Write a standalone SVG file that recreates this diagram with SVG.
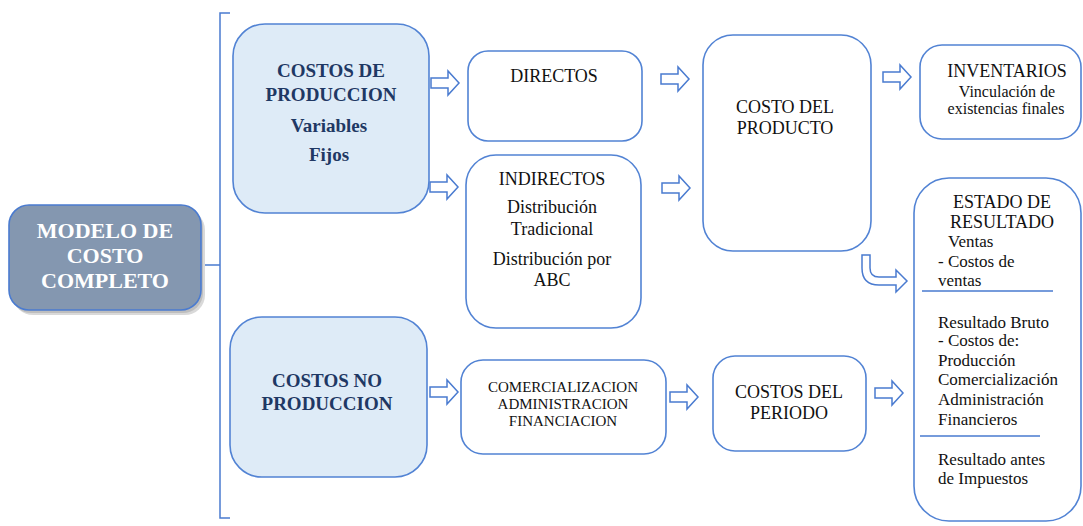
<svg xmlns="http://www.w3.org/2000/svg" width="1083" height="526" viewBox="0 0 1083 526">
<defs>
  <path id="arr" d="M0,-5 H17 V-12 L28,0 L17,12 V5 H0 Z" fill="#ffffff" stroke="#4A7BD0" stroke-width="1.5"/>
</defs>

<g id="connectors">
  <path d="M230,13 H220 V518 H230 M220,265 H205" fill="none" stroke="#4A7BD0" stroke-width="1.5"/>
  <use href="#arr" transform="translate(431,83)"/>
  <use href="#arr" transform="translate(430,187)"/>
  <use href="#arr" transform="translate(430,392)"/>
  <use href="#arr" transform="translate(661,79)"/>
  <use href="#arr" transform="translate(662,188)"/>
  <use href="#arr" transform="translate(883,77)"/>
  <use href="#arr" transform="translate(670,397)"/>
  <use href="#arr" transform="translate(875,393)"/>
  <path d="M862,255 V268 Q862,285 879,285 H896 V292 L907,281 L896,270 V277 H879 Q870,277 870,268 V255 Z" fill="#ffffff" stroke="#4A7BD0" stroke-width="1.5"/>
</g>

<g id="modelo">
  <rect x="13" y="210" width="192" height="105" rx="20" fill="#000000" fill-opacity="0.15"/>
  <rect x="11" y="208" width="192" height="105" rx="20" fill="#000000" fill-opacity="0.12"/>
  <rect x="9" y="205" width="192" height="105" rx="20" fill="#8497B0" stroke="#4A7BD0" stroke-width="1.6"/>
  <text x="105" y="238" style="font-family:'Liberation Serif',serif;font-size:22px;font-weight:bold;fill:#ffffff;text-anchor:middle">MODELO DE</text>
  <text x="105" y="263" style="font-family:'Liberation Serif',serif;font-size:22px;font-weight:bold;fill:#ffffff;text-anchor:middle">COSTO</text>
  <text x="105" y="288" style="font-family:'Liberation Serif',serif;font-size:22px;font-weight:bold;fill:#ffffff;text-anchor:middle">COMPLETO</text>
</g>

<g id="costos-produccion">
  <rect x="233" y="24" width="196" height="189" rx="32" fill="#DEEBF7" stroke="#5283D4" stroke-width="1.6"/>
  <text x="331" y="77" style="font-family:'Liberation Serif',serif;font-size:19px;font-weight:bold;fill:#1F3864;text-anchor:middle">COSTOS DE</text>
  <text x="331" y="101" style="font-family:'Liberation Serif',serif;font-size:19px;font-weight:bold;fill:#1F3864;text-anchor:middle">PRODUCCION</text>
  <text x="329" y="132" style="font-family:'Liberation Serif',serif;font-size:19px;font-weight:bold;fill:#1F3864;text-anchor:middle">Variables</text>
  <text x="329" y="161" style="font-family:'Liberation Serif',serif;font-size:19px;font-weight:bold;fill:#1F3864;text-anchor:middle">Fijos</text>
</g>

<g id="costos-no-produccion">
  <rect x="230" y="317" width="197" height="160" rx="32" fill="#DEEBF7" stroke="#5283D4" stroke-width="1.6"/>
  <text x="327" y="387" style="font-family:'Liberation Serif',serif;font-size:19px;font-weight:bold;fill:#1F3864;text-anchor:middle">COSTOS NO</text>
  <text x="327" y="410" style="font-family:'Liberation Serif',serif;font-size:19px;font-weight:bold;fill:#1F3864;text-anchor:middle">PRODUCCION</text>
</g>

<g id="directos">
  <rect x="468" y="51" width="174" height="90" rx="20" fill="#ffffff" stroke="#5283D4" stroke-width="1.6"/>
  <text x="554" y="82" style="font-family:'Liberation Serif',serif;font-size:18px;fill:#111111;text-anchor:middle">DIRECTOS</text>
</g>

<g id="indirectos">
  <rect x="466" y="155" width="175" height="173" rx="30" fill="#ffffff" stroke="#5283D4" stroke-width="1.6"/>
  <text x="552" y="185" style="font-family:'Liberation Serif',serif;font-size:18px;fill:#111111;text-anchor:middle">INDIRECTOS</text>
  <text x="552" y="213" style="font-family:'Liberation Serif',serif;font-size:18px;fill:#111111;text-anchor:middle">Distribución</text>
  <text x="552" y="235" style="font-family:'Liberation Serif',serif;font-size:18px;fill:#111111;text-anchor:middle">Tradicional</text>
  <text x="552" y="265" style="font-family:'Liberation Serif',serif;font-size:18px;fill:#111111;text-anchor:middle">Distribución por</text>
  <text x="552" y="286" style="font-family:'Liberation Serif',serif;font-size:18px;fill:#111111;text-anchor:middle">ABC</text>
</g>

<g id="costo-producto">
  <rect x="703" y="35" width="168" height="216" rx="30" fill="#ffffff" stroke="#5283D4" stroke-width="1.6"/>
  <text x="785" y="113" style="font-family:'Liberation Serif',serif;font-size:18px;fill:#111111;text-anchor:middle">COSTO DEL</text>
  <text x="785" y="134" style="font-family:'Liberation Serif',serif;font-size:18px;fill:#111111;text-anchor:middle">PRODUCTO</text>
</g>

<g id="inventarios">
  <rect x="920" y="45" width="161" height="94" rx="22" fill="#ffffff" stroke="#5283D4" stroke-width="1.6"/>
  <text x="1007" y="77" style="font-family:'Liberation Serif',serif;font-size:18px;fill:#111111;text-anchor:middle">INVENTARIOS</text>
  <text x="1007" y="97" style="font-family:'Liberation Serif',serif;font-size:16px;fill:#111111;text-anchor:middle">Vinculación de</text>
  <text x="1006" y="114" style="font-family:'Liberation Serif',serif;font-size:16px;fill:#111111;text-anchor:middle">existencias finales</text>
</g>

<g id="estado-resultado">
  <rect x="914" y="178" width="167" height="343" rx="35" fill="#ffffff" stroke="#5283D4" stroke-width="1.6"/>
  <text x="1002" y="208" style="font-family:'Liberation Serif',serif;font-size:18px;fill:#111111;text-anchor:middle">ESTADO DE</text>
  <text x="1002" y="228" style="font-family:'Liberation Serif',serif;font-size:18px;fill:#111111;text-anchor:middle">RESULTADO</text>
  <text x="948" y="247" style="font-family:'Liberation Serif',serif;font-size:17px;fill:#111111">Ventas</text>
  <text x="938" y="267" style="font-family:'Liberation Serif',serif;font-size:17px;fill:#111111">- Costos de</text>
  <text x="938" y="286" style="font-family:'Liberation Serif',serif;font-size:17px;fill:#111111">ventas</text>
  <path d="M922,291 H1053 M920,436 H1040" fill="none" stroke="#4A7BD0" stroke-width="1.5"/>
  <text x="938" y="328" style="font-family:'Liberation Serif',serif;font-size:17px;fill:#111111">Resultado Bruto</text>
  <text x="938" y="346" style="font-family:'Liberation Serif',serif;font-size:17px;fill:#111111">- Costos de:</text>
  <text x="938" y="366" style="font-family:'Liberation Serif',serif;font-size:17px;fill:#111111">Producción</text>
  <text x="938" y="385" style="font-family:'Liberation Serif',serif;font-size:17px;fill:#111111">Comercialización</text>
  <text x="938" y="405" style="font-family:'Liberation Serif',serif;font-size:17px;fill:#111111">Administración</text>
  <text x="938" y="425" style="font-family:'Liberation Serif',serif;font-size:17px;fill:#111111">Financieros</text>
  <text x="938" y="465" style="font-family:'Liberation Serif',serif;font-size:17px;fill:#111111">Resultado antes</text>
  <text x="938" y="484" style="font-family:'Liberation Serif',serif;font-size:17px;fill:#111111">de Impuestos</text>
</g>

<g id="comercializacion">
  <rect x="461" y="360" width="205" height="94" rx="22" fill="#ffffff" stroke="#5283D4" stroke-width="1.6"/>
  <text x="563" y="392" style="font-family:'Liberation Serif',serif;font-size:15px;fill:#111111;text-anchor:middle">COMERCIALIZACION</text>
  <text x="563" y="409" style="font-family:'Liberation Serif',serif;font-size:15px;fill:#111111;text-anchor:middle">ADMINISTRACION</text>
  <text x="563" y="426" style="font-family:'Liberation Serif',serif;font-size:15px;fill:#111111;text-anchor:middle">FINANCIACION</text>
</g>

<g id="costos-periodo">
  <rect x="713" y="356" width="153" height="95" rx="22" fill="#ffffff" stroke="#5283D4" stroke-width="1.6"/>
  <text x="789" y="398" style="font-family:'Liberation Serif',serif;font-size:18px;fill:#111111;text-anchor:middle">COSTOS DEL</text>
  <text x="789" y="419" style="font-family:'Liberation Serif',serif;font-size:18px;fill:#111111;text-anchor:middle">PERIODO</text>
</g>
</svg>
